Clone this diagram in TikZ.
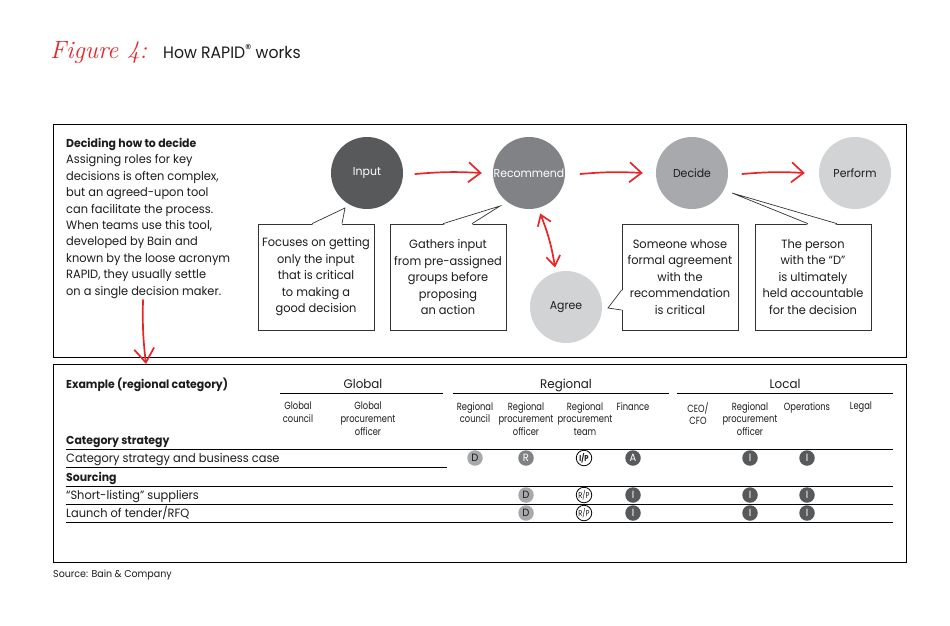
\documentclass[tikz,border=0pt]{standalone}
\usepackage{fontspec}
\newfontfamily\pop{Poppins}[FakeStretch=0.95]
\newfontfamily\popc{Poppins}[FakeStretch=0.8]
\usetikzlibrary{arrows.meta,calc}
\definecolor{gA}{HTML}{58595B}
\definecolor{gB}{HTML}{808285}
\definecolor{gC}{HTML}{A7A9AC}
\definecolor{gD}{HTML}{D1D3D4}
\definecolor{bred}{HTML}{E8262A}
\definecolor{ink}{HTML}{1E1B1C}
\tikzset{
 txt/.style={font=\pop\fontsize{12}{16.4}\selectfont, text=ink, inner sep=0},
 bub/.style={circle, minimum size=72pt, inner sep=0, font=\pop\fontsize{11.5}{13}\selectfont},
 callbox/.style={draw=black!80, line width=0.7pt, minimum width=116pt, minimum height=106pt, align=center, inner sep=0, font=\pop\fontsize{12}{16.5}\selectfont, text=ink},
 callline/.style={draw=black!80, line width=0.7pt, line join=miter},
 redarr/.style={draw=bred, line width=1.7pt, line cap=round, -{Straight Barb[length=12pt,width=20pt]}},
 redarrtwo/.style={draw=bred, line width=1.7pt, line cap=round, {Straight Barb[length=10pt,width=14pt]}-{Straight Barb[length=10pt,width=14pt]}},
 frame/.style={draw=black, line width=1pt, inner sep=0, anchor=north west, minimum width=853pt},
 rule/.style={draw=black, line width=0.8pt},
 grp/.style={font=\pop\fontsize{12.5}{15}\selectfont, text=ink, inner sep=0, anchor=base},
 sub/.style={font=\popc\fontsize{10.4}{12.8}\selectfont, align=center, text=ink, inner sep=0, anchor=north},
 rowt/.style={font=\pop\fontsize{12}{14}\selectfont, text=ink, inner sep=0, anchor=base west},
 rowb/.style={font=\pop\bfseries\fontsize{11.5}{14}\selectfont, text=ink, inner sep=0, anchor=base west},
 ico/.style={circle, minimum size=15.5pt, inner sep=0, font=\pop\fontsize{10.5}{11}\selectfont},
 icoD/.style={ico, fill=gC, text=ink},
 icoR/.style={ico, fill=gB, text=white},
 icoA/.style={ico, fill=gA, text=white},
 icoP/.style={ico, draw=black, line width=0.8pt, fill=white, text=ink, font=\popc\fontsize{8.5}{9}\selectfont},
}
\begin{document}
\begin{tikzpicture}[x=1pt,y=-1pt]
\useasboundingbox (0,0) rectangle (950,625);
\fill[white] (0,0) rectangle (950,625);

% title
\node[anchor=base west, inner sep=0, font=\rmfamily\itshape\fontsize{25}{28}\selectfont, text=bred] (fig) at (50,58) {Figure 4:};
\node[anchor=base west, inner sep=0, font=\pop\fontsize{16.5}{20}\selectfont, text=ink] (ttl) at (163,58) {How RAPID\raisebox{4.5pt}{\fontsize{13}{13}\selectfont ®} works};

% frames
\node[frame, minimum height=233pt] (topbox) at (53,124) {};
\node[frame, minimum height=198pt] (tbl) at (53,364) {};

% intro text
\node[txt, anchor=north west, align=left] (intro) at (66,138) {{\bfseries\fontsize{11.5}{16.4}\selectfont Deciding how to decide}\\Assigning roles for key\\decisions is often complex,\\but an agreed-upon tool\\can facilitate the process.\\When teams use this tool,\\developed by Bain and\\known by the loose acronym\\RAPID, they usually settle\\on a single decision maker.};

% circles
\node[bub, fill=gA, text=white] (in) at (367,173) {Input};
\node[bub, fill=gB, text=white] (rec) at (529,173) {Recommend};
\node[bub, fill=gC, text=ink] (dec) at (692,173) {Decide};
\node[bub, fill=gD, text=ink] (perf) at (855,173) {Perform};
\node[bub, fill=gD, text=ink] (agr) at (566,307) {Agree};

% callouts
\node[callbox] (cb1) at (316,277) {Focuses on getting\\only the input\\that is critical\\to making a\\good decision};
\node[callbox] (cb2) at (448,277) {Gathers input\\from pre-assigned\\groups before\\proposing\\an action};
\node[callbox] (cb3) at (680,277) {Someone whose\\formal agreement\\with the\\recommendation\\is critical};
\node[callbox] (cb4) at (813,277) {The person\\with the “D”\\is ultimately\\held accountable\\for the decision};

\coordinate (t1) at (345,208);
\fill[white] ([xshift=-4pt,yshift=-1.2pt]cb1.north) -- (t1) -- ([xshift=26pt,yshift=-1.2pt]cb1.north) -- cycle;
\draw[callline] ([xshift=-4pt]cb1.north) -- (t1) -- ([xshift=26pt]cb1.north);

\coordinate (t2) at (500,206);
\fill[white] ([xshift=-5pt,yshift=-1.2pt]cb2.north) -- (t2) -- ([xshift=24pt,yshift=-1.2pt]cb2.north) -- cycle;
\draw[callline] ([xshift=-5pt]cb2.north) -- (t2) -- ([xshift=24pt]cb2.north);

\coordinate (t3) at (608,308);
\fill[white] ([xshift=1.2pt,yshift=-13pt]cb3.west) -- (t3) -- ([xshift=1.2pt,yshift=-33pt]cb3.west) -- cycle;
\draw[callline] ([yshift=-13pt]cb3.west) -- (t3) -- ([yshift=-33pt]cb3.west);

\coordinate (t4) at (732,193);
\fill[white] ([xshift=-5pt,yshift=-1.2pt]cb4.north) -- (t4) -- ([xshift=24pt,yshift=-1.2pt]cb4.north) -- cycle;
\draw[callline] ([xshift=-5pt]cb4.north) -- (t4) -- ([xshift=24pt]cb4.north);

% red arrows
\draw[redarr] ([xshift=12pt,yshift=-1pt]in.east) to[bend left=4] ([xshift=-11pt]rec.west);
\draw[redarr] ([xshift=15pt,yshift=-1pt]rec.east) to[bend left=4] ([xshift=-13pt]dec.west);
\draw[redarr] ([xshift=14pt,yshift=-1pt]dec.east) to[bend left=4] ([xshift=-14pt]perf.west);
\draw[redarrtwo] ($(rec.center)!42pt!(agr.center)$) to[bend left=6] ($(agr.center)!41pt!(rec.center)$);
\coordinate (ds) at (143,300);
\coordinate (de) at (146,364);
\draw[redarr, -{Straight Barb[length=14pt,width=20pt]}] (ds) to[bend right=4] (de);

% table header
\node[rowb] (ex) at (66,388) {Example (regional category)};
\node[grp] (gglob) at (363,388) {Global};
\node[grp] (greg) at (566,388) {Regional};
\node[grp] (gloc) at (785,388) {Local};
\draw[rule] (280,393) -- (443,393);
\draw[rule] (453,393) -- (669,393);
\draw[rule] (677,393) -- (893,393);

\node[sub] (h1) at (298,402) {Global\\council};
\node[sub] (h2) at (368,402) {Global\\procurement\\officer};
\node[sub] (h3) at (475,402) {Regional\\council};
\node[sub] (h4) at (526,402) {Regional\\procurement\\officer};
\node[sub] (h5) at (585,402) {Regional\\procurement\\team};
\node[sub] (h6) at (633,402) {Finance};
\node[sub] (h7) at (698,402) {CEO/\\CFO};
\node[sub] (h8) at (750,402) {Regional\\procurement\\officer};
\node[sub] (h9) at (807,402) {Operations};
\node[sub] (h10) at (861,402) {Legal};

% rows
\node[rowb] (cs) at (66,444) {Category strategy};
\draw[rule] (66,449) -- (893,449);
\node[rowt] (r1) at (66,462) {Category strategy and business case};
\draw[rule] (66,467) -- (447,467);
\node[rowb] (so) at (66,481) {Sourcing};
\draw[rule] (66,486) -- (893,486);
\node[rowt] (r2) at (66,499) {“Short-listing” suppliers};
\draw[rule] (66,504) -- (893,504);
\node[rowt] (r3) at (66,517) {Launch of tender/RFQ};
\draw[rule] (66,522) -- (893,522);

% icons
\node[icoD] (i11) at (475,458) {D};
\node[icoR] (i12) at (526,458) {R};
\node[icoP, font=\popc\bfseries\fontsize{8.5}{9}\selectfont] (i13) at (584,458) {I/P};
\node[icoA] (i14) at (633,458) {A};
\node[icoA] (i15) at (750,458) {I};
\node[icoA] (i16) at (807,458) {I};

\node[icoD] (i21) at (526,495) {D};
\node[icoP] (i22) at (584,495) {R/P};
\node[icoA] (i23) at (633,495) {I};
\node[icoA] (i24) at (750,495) {I};
\node[icoA] (i25) at (807,495) {I};

\node[icoD] (i31) at (526,513) {D};
\node[icoP] (i32) at (584,513) {R/P};
\node[icoA] (i33) at (633,513) {I};
\node[icoA] (i34) at (750,513) {I};
\node[icoA] (i35) at (807,513) {I};

% source
\node[anchor=base west, font=\pop\fontsize{10}{12}\selectfont, text=ink, inner sep=0] (src) at (53,577) {Source: Bain \& Company};
\end{tikzpicture}
\end{document}
